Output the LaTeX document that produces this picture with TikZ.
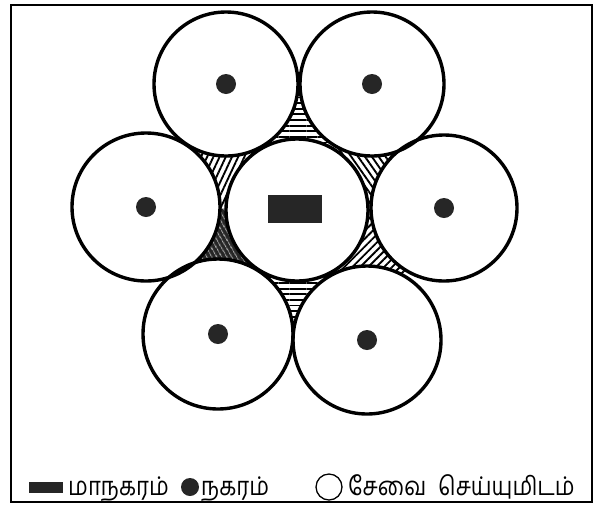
\documentclass[tikz,border=0pt]{standalone}
\usepackage{fontspec}
\usepackage{graphicx}
\newfontfamily\tamilfont[Script=Tamil]{Hind Madurai}
\usetikzlibrary{patterns.meta}
\newcommand{\legendword}[1]{\scalebox{0.86}[1]{#1}}
\tikzset{
  outerframe/.style={draw, line width=1.4pt},
  servicering/.style={draw, line width=2.9pt},
  townmark/.style={fill=black!85},
  metromark/.style={fill=black!85},
  gaphatch/.style={pattern={Lines[angle=#1, distance=4.8pt, line width=1.6pt]}},
  darkhatch/.style={fill=black!85, postaction={pattern={Lines[angle=#1, distance=4pt, line width=0.7pt]}, pattern color=white}},
  legendtext/.style={font=\tamilfont\fontsize{22}{26}\selectfont, inner sep=0pt, anchor=base west},
}

\begin{document}
\begin{tikzpicture}[x=0.3mm, y=-0.3mm]

\useasboundingbox (0,0) rectangle (598,508);
\draw[outerframe] (11,5) rectangle (592,502);

% Circle centres
\coordinate (ctr) at (297,210);
\coordinate (tl) at (226,84);
\coordinate (tr) at (372,84);
\coordinate (lf) at (146,207);
\coordinate (rt) at (444,208);
\coordinate (bl) at (218,334);
\coordinate (br) at (367,340);

% Hatched gaps round the centre
\fill[gaphatch=0] (ctr) -- (tl) -- (tr) -- cycle;
\fill[gaphatch=125] (ctr) -- (tr) -- (rt) -- cycle;
\fill[gaphatch=45] (ctr) -- (rt) -- (br) -- cycle;
\fill[gaphatch=0] (ctr) -- (br) -- (bl) -- cycle;
\fill[darkhatch=120] (ctr) -- (bl) -- (lf) -- cycle;
\fill[gaphatch=65] (ctr) -- (lf) -- (tl) -- cycle;

% Service areas
\foreach \c/\r in {ctr/71, tl/72, tr/72, lf/74, rt/73, bl/75, br/74}
  \fill[white] (\c) circle (\r);
\foreach \c/\r in {ctr/71, tl/72, tr/72, lf/74, rt/73, bl/75, br/74}
  \draw[servicering] (\c) circle (\r);

% Towns and metropolis
\foreach \c in {tl, tr, lf, rt, bl, br}
  \fill[townmark] (\c) circle (10);
\fill[metromark] (268,195) rectangle (322,223);

% Legend
\fill[metromark] (29,482) rectangle (63,493);
\node[legendtext] (lgmetro) at (68,495) {\legendword{மாநகரம்}};
\fill[townmark] (190,487) circle (9);
\node[legendtext] (lgtown) at (201,495) {\legendword{நகரம்}};
\draw[line width=1.1pt] (329,487) circle (13);
\node[legendtext] (lgservice) at (348,495) {\legendword{சேவை}};
\node[legendtext] (lgplace) at (438,495) {\legendword{செய்யுமிடம்}};

\end{tikzpicture}
\end{document}
